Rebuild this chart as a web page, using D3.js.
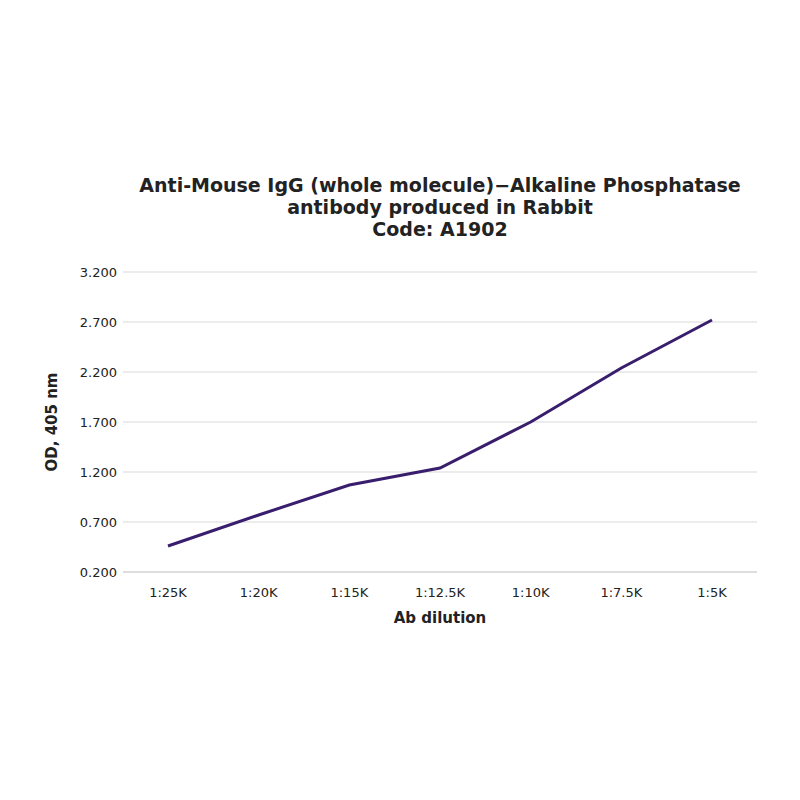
<!DOCTYPE html><html>
<head>
<style>
  body { margin: 0; background: #fff; }
  text { font-family: "DejaVu Sans", Verdana, sans-serif; fill: #222; }
</style>
</head><body>
<svg width="800" height="800"></svg>
<script src="https://cdn.jsdelivr.net/npm/d3@7"></script>
<script>
var dilutions = ['1:25K', '1:20K', '1:15K', '1:12.5K', '1:10K', '1:7.5K', '1:5K'];
var od = [0.46, 0.77, 1.07, 1.24, 1.70, 2.24, 2.72];
var yTicks = [0.2, 0.7, 1.2, 1.7, 2.2, 2.7, 3.2];
var titleLines = ['Anti-Mouse IgG (whole molecule)\u2212Alkaline Phosphatase', 'antibody produced in Rabbit', 'Code: A1902'];

var svg = d3.select('svg');
var x = d3.scalePoint().domain(dilutions).range([168, 712]);
var y = d3.scaleLinear().domain([0.2, 3.2]).range([572, 272]);

svg.selectAll('line.grid')
    .data(yTicks)
  .enter().append('line')
    .attr('x1', 123).attr('x2', 757)
    .attr('y1', function(d) { return y(d); })
    .attr('y2', function(d) { return y(d); })
    .attr('stroke', function(d) { return d === 0.2 ? '#bbb' : '#d9d9d9'; })
    .attr('stroke-width', 1);

svg.selectAll('text.ytick')
    .data(yTicks)
  .enter().append('text')
    .attr('x', 117).attr('y', function(d) { return y(d); })
    .attr('text-anchor', 'end').attr('dy', '0.35em')
    .style('font-size', '13px')
    .text(function(d) { return d3.format('.3f')(d); });

svg.selectAll('text.xtick')
    .data(dilutions)
  .enter().append('text')
    .attr('x', function(d) { return x(d); }).attr('y', 592)
    .attr('text-anchor', 'middle').attr('dy', '0.35em')
    .style('font-size', '13px')
    .text(function(d) { return d; });

svg.append('path')
    .datum(od)
    .attr('fill', 'none')
    .attr('stroke', '#3a1e6e')
    .attr('stroke-width', 3)
    .attr('d', d3.line()
      .x(function(d, i) { return x(dilutions[i]); })
      .y(function(d) { return y(d); }));

svg.selectAll('text.title')
    .data(titleLines)
  .enter().append('text')
    .attr('x', 440).attr('y', function(d, i) { return 192 + i * 22; })
    .attr('text-anchor', 'middle')
    .style('font-size', '19px').style('font-weight', 'bold')
    .text(function(d) { return d; });

svg.append('text')
    .attr('x', 440).attr('y', 623)
    .attr('text-anchor', 'middle')
    .style('font-size', '15px').style('font-weight', 'bold')
    .text('Ab dilution');

svg.append('text')
    .attr('transform', 'translate(57,422) rotate(-90)')
    .attr('text-anchor', 'middle')
    .style('font-size', '15px').style('font-weight', 'bold')
    .text('OD, 405 nm');
</script>
</body></html>
